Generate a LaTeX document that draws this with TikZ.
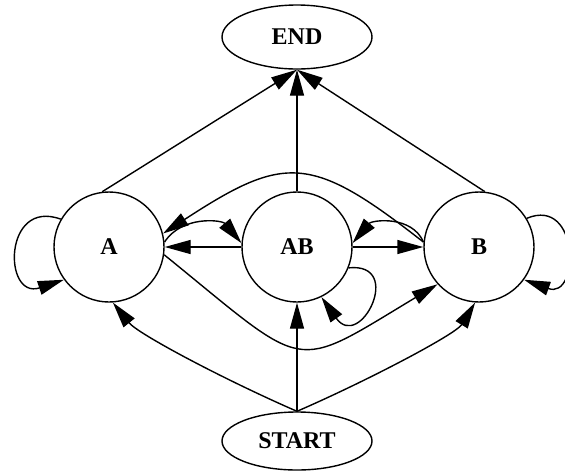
\documentclass[tikz,border=0pt]{standalone}
\usepackage{fontspec}
\setmainfont{Liberation Serif}
\usetikzlibrary{arrows.meta,shapes.geometric}
\begin{document}
\begin{tikzpicture}[x=1pt,y=-1pt,
  every node/.style={font=\bfseries\fontsize{24}{28}\selectfont},
  statebox/.style={draw,circle,minimum size=110pt,inner sep=0pt,line width=1.4pt},
  termbox/.style={draw,ellipse,minimum width=150pt,inner sep=0pt,line width=1.4pt},
  edge/.style={line width=1.4pt,-{Triangle[length=26pt,width=14pt]}}]
\useasboundingbox (0,0) rectangle (565,475);
\node[termbox,minimum height=64pt] (END) at (297,37) {END};
\node[termbox,minimum height=58pt] (START) at (297,441) {START};
\node[statebox] (A) at (109,247) {A};
\node[statebox] (AB) at (297,247) {AB};
\node[statebox] (B) at (479,247) {B};
% to END
\draw[edge] (A.97) -- (END.south);
\draw[edge] (AB.north) -- (END.south);
\draw[edge] (B.84) -- (END.south);
% from START
\draw[edge] (START.north) -- (AB.south);
\draw[edge] (START.north) .. controls (225,380) and (138,334) .. (A.-86);
\draw[edge] (START.north) .. controls (369,380) and (456,334) .. (B.266);
% horizontal
\draw[edge] (AB.west) -- (A.east);
\draw[edge] (AB.east) -- (B.west);
% small arcs
\draw[edge] (A.5) .. controls (182,215) and (222,220) .. (AB.176);
\draw[edge] (B.175) .. controls (412,215) and (372,220) .. (AB.4);
% big arcs
\draw[edge] (B.175) .. controls (311,154) and (285,154) .. (A.14);
\draw[edge] (A.-8) .. controls (310,373) and (290,373) .. (B.222);
% loops
\draw[edge] (A.150) .. controls (3,198) and (3,300) .. (A.216);
\draw[edge] (AB.-22) .. controls (405,262) and (360,352) .. (AB.-64);
\draw[edge] (B.31) .. controls (580,196) and (580,300) .. (B.-36);
\end{tikzpicture}
\end{document}
